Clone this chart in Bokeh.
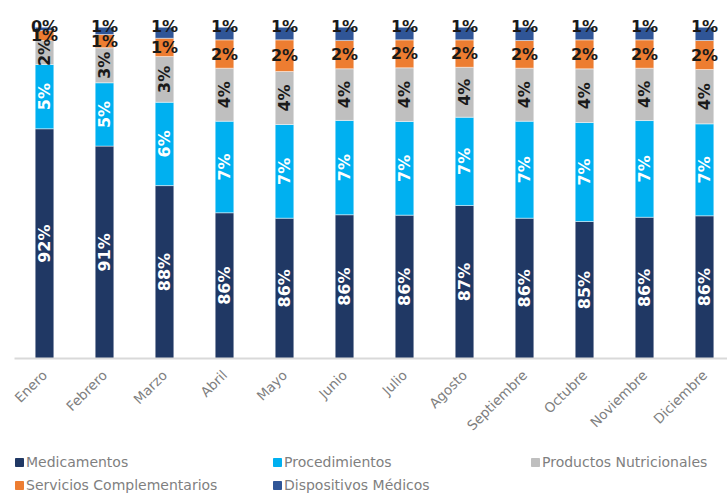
import math
from bokeh.plotting import figure
from bokeh.layouts import column
from bokeh.models import (ColumnDataSource, Range1d, FixedTicker, Legend, LegendItem)
from bokeh.core.properties import value
from bokeh.embed import file_html
from bokeh.resources import INLINE

months = ["Enero", "Febrero", "Marzo", "Abril", "Mayo", "Junio", "Julio",
          "Agosto", "Septiembre", "Octubre", "Noviembre", "Diciembre"]
series_names = ["Medicamentos", "Procedimientos", "Productos Nutricionales",
                "Servicios Complementarios", "Dispositivos Médicos"]
medicamentos = [92.34, 91.03, 88.05, 86.0, 85.59, 85.85, 85.82, 86.55, 85.59, 85.34, 85.66, 85.77]
procedimientos = [4.85, 4.78, 6.29, 6.91, 7.07, 7.12, 7.07, 6.66, 7.32, 7.47, 7.30, 6.94]
nutricionales = [1.81, 2.64, 3.45, 4.00, 4.00, 3.90, 4.05, 3.77, 4.00, 4.05, 3.95, 4.10]
complementarios = [0.75, 1.00, 1.38, 2.14, 2.39, 2.14, 2.11, 2.07, 2.09, 2.19, 2.14, 2.19]
dispositivos = [0.25, 0.55, 0.83, 0.96, 0.95, 1.00, 0.95, 0.95, 1.00, 0.95, 0.95, 1.00]
colors = ["#203864", "#00B0F0", "#BFBFBF", "#ED7D31", "#2F5597"]

series = [medicamentos, procedimientos, nutricionales, complementarios, dispositivos]
y_start = 75.0
y_end = 102.02

p = figure(width=727, height=450, output_backend="svg", toolbar_location=None,
           x_range=Range1d(-0.5, 11.383), y_range=Range1d(y_start, y_end),
           min_border_left=14, min_border_right=0, min_border_top=0,
           min_border_bottom=92)
p.outline_line_color = None
p.grid.visible = False
p.yaxis.visible = False

xs = list(range(len(months)))
font = value("DejaVu Sans")
bottoms = [0.0] * len(months)
for name, vals, col in zip(series_names, series, colors):
    tops = [b + v for b, v in zip(bottoms, vals)]
    src = ColumnDataSource(dict(x=xs, bottom=bottoms, top=tops))
    p.vbar(x="x", bottom="bottom", top="top", width=0.31, source=src,
           fill_color=col, line_color="white", line_alpha=0.45, line_width=1)
    bottoms = tops

labels_cfg = [
    (0, "white", math.pi / 2),
    (1, "white", math.pi / 2),
    (2, "#1a1a1a", math.pi / 2),
    (3, "#1a1a1a", 0.0),
]
cum = [[0.0] * len(months)]
for vals in series:
    cum.append([c + v for c, v in zip(cum[-1], vals)])
for idx, color, ang in labels_cfg:
    lo = [max(c, y_start) for c in cum[idx]]
    hi = cum[idx + 1]
    ys = [(a + b) / 2 for a, b in zip(lo, hi)]
    txt = [f"{round(v)}%" for v in series[idx]]
    src = ColumnDataSource(dict(x=xs, y=ys, t=txt))
    p.text(x="x", y="y", text="t", source=src, angle=ang, text_align="center",
           text_baseline="middle", text_color=color, text_font=font,
           text_font_size="16px", text_font_style="bold")
src = ColumnDataSource(dict(x=xs, y=cum[5], t=[f"{round(v)}%" for v in dispositivos]))
p.text(x="x", y="y", text="t", source=src, text_align="center",
       text_baseline="alphabetic", y_offset=-1, text_color="#1a1a1a",
       text_font=font, text_font_size="16px", text_font_style="bold")

ax = p.xaxis[0]
ax.ticker = FixedTicker(ticks=xs)
ax.major_label_overrides = {i: m for i, m in enumerate(months)}
ax.major_label_orientation = math.pi / 4
ax.major_label_text_font = "DejaVu Sans"
ax.major_label_text_font_size = "13.5px"
ax.major_label_text_color = "#7F7F7F"
ax.axis_line_color = "#D9D9D9"
ax.axis_line_width = 2
ax.major_tick_line_color = None
ax.minor_tick_line_color = None
ax.major_label_standoff = 8

# legend in its own strip below the chart
lg = figure(width=727, height=44, output_backend="svg", toolbar_location=None,
            x_range=Range1d(0, 1), y_range=Range1d(0, 1),
            min_border_left=0, min_border_right=0, min_border_top=2,
            min_border_bottom=0)
lg.outline_line_color = None
lg.grid.visible = False
lg.axis.visible = False
items = []
for name, col in zip(series_names, colors):
    # placeholder renderer (outside the visible range) used only for the legend swatch
    r = lg.vbar(x=[-5], top=[-5], bottom=[-6], width=0.1, fill_color=col, line_color=col)
    items.append(LegendItem(label=name, renderers=[r]))
legend = Legend(items=items, orientation="horizontal", ncols=3,
                location="top_left", glyph_width=10, glyph_height=10,
                label_standoff=2, label_width=243, spacing=3,
                label_height=20, padding=0, margin=0,
                label_text_font="DejaVu Sans",
                label_text_font_size="14px", label_text_color="#7F7F7F",
                border_line_color=None, background_fill_alpha=0)
lg.add_layout(legend)

open("out.html", "w").write(file_html(column(p, lg, spacing=0), INLINE))
